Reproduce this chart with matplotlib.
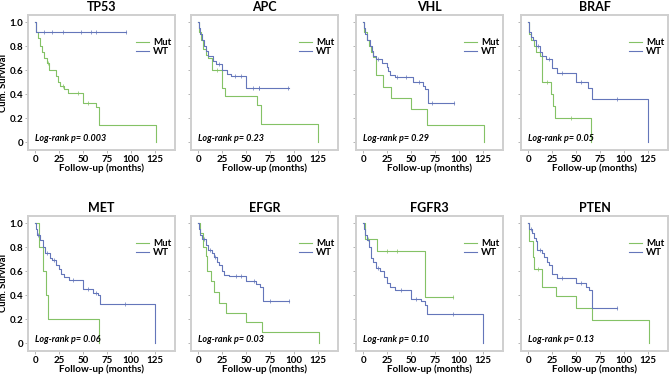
""" Kaplan-Meier curves, mutated vs wild type, for eight genes
"""
import numpy as np
import matplotlib
matplotlib.use('Agg')
import matplotlib.pyplot as plt

# gene names and log-rank p values
genes = ['TP53', 'APC', 'VHL', 'BRAF', 'MET', 'EFGR', 'FGFR3', 'PTEN']
p_values = ['0.003', '0.23', '0.29', '0.05', '0.06', '0.03', '0.10', '0.13']

# step curves: event times (months), survival after each step, censored times
tp53_mut_t = [0, 1, 3, 5, 7, 9, 12, 14, 22, 24, 26, 30, 34, 50, 64, 67, 126]
tp53_mut_s = [1.0, 0.92, 0.87, 0.8, 0.75, 0.7, 0.66, 0.6, 0.55, 0.5, 0.47, 0.44, 0.41, 0.33, 0.29, 0.145, 0]
tp53_mut_c = [13, 29, 45, 55]
tp53_wt_t = [0, 1, 95]
tp53_wt_s = [1.0, 0.92, 0.92]
tp53_wt_c = [9, 18, 29, 48, 58, 64, 95]

apc_mut_t = [0, 1, 3, 5, 8, 10, 14, 25, 28, 61, 66, 125]
apc_mut_s = [1.0, 0.92, 0.85, 0.78, 0.73, 0.7, 0.6, 0.455, 0.386, 0.31, 0.153, 0]
apc_mut_c = [20]
apc_wt_t = [0, 1, 2, 4, 6, 8, 10, 15, 19, 25, 30, 34, 50, 95]
apc_wt_s = [1.0, 0.95, 0.9, 0.85, 0.8, 0.76, 0.72, 0.68, 0.65, 0.6, 0.57, 0.55, 0.455, 0.455]
apc_wt_c = [22, 38, 45, 57, 63, 64, 94]

vhl_mut_t = [0, 1, 4, 6, 8, 10, 13, 21, 29, 50, 67, 126]
vhl_mut_s = [1.0, 0.92, 0.85, 0.8, 0.75, 0.71, 0.56, 0.46, 0.37, 0.275, 0.14, 0]
vhl_mut_c = []
vhl_wt_t = [0, 1, 2, 4, 7, 9, 10, 13, 20, 25, 26, 28, 33, 52, 62, 65, 68, 95]
vhl_wt_s = [1.0, 0.95, 0.9, 0.85, 0.8, 0.76, 0.72, 0.69, 0.66, 0.63, 0.59, 0.56, 0.54, 0.5, 0.47, 0.44, 0.33, 0.33]
vhl_wt_c = [15, 35, 45, 58, 72, 95]

braf_mut_t = [0, 1, 3, 6, 8, 12, 14, 24, 26, 28, 66]
braf_mut_s = [1.0, 0.9, 0.85, 0.8, 0.75, 0.72, 0.505, 0.4, 0.3, 0.2, 0]
braf_mut_c = [20, 45]
braf_wt_t = [0, 1, 3, 5, 8, 12, 14, 19, 25, 30, 50, 62, 67, 125]
braf_wt_s = [1.0, 0.92, 0.88, 0.85, 0.8, 0.75, 0.72, 0.69, 0.62, 0.58, 0.5, 0.455, 0.36, 0]
braf_wt_c = [10, 22, 35, 55, 93]

met_mut_t = [0, 4, 8, 11, 13, 67]
met_mut_s = [1.0, 0.8, 0.6, 0.4, 0.2, 0]
met_mut_c = []
met_wt_t = [0, 1, 2, 5, 8, 10, 15, 18, 22, 25, 27, 30, 35, 50, 60, 66, 68, 125]
met_wt_s = [1.0, 0.95, 0.9, 0.86, 0.8, 0.75, 0.71, 0.69, 0.65, 0.62, 0.58, 0.55, 0.525, 0.45, 0.42, 0.4, 0.323, 0]
met_wt_c = [3, 12, 20, 40, 55, 63, 94]

efgr_mut_t = [0, 2, 5, 8, 9, 13, 16, 22, 29, 50, 67, 126]
efgr_mut_s = [1.0, 0.92, 0.8, 0.73, 0.6, 0.52, 0.425, 0.337, 0.255, 0.173, 0.09, 0]
efgr_mut_c = []
efgr_wt_t = [0, 1, 2, 4, 8, 10, 14, 16, 20, 22, 25, 27, 32, 50, 60, 65, 68, 95]
efgr_wt_s = [1.0, 0.95, 0.9, 0.87, 0.82, 0.775, 0.75, 0.72, 0.68, 0.65, 0.6, 0.57, 0.556, 0.515, 0.49, 0.466, 0.35, 0.35]
efgr_wt_c = [6, 12, 18, 40, 45, 58, 75, 95]

fgfr3_mut_t = [0, 2, 14, 65, 94]
fgfr3_mut_s = [1.0, 0.87, 0.77, 0.385, 0.385]
fgfr3_mut_c = [5, 25, 35, 94]
fgfr3_wt_t = [0, 1, 2, 4, 6, 8, 10, 13, 18, 22, 25, 28, 33, 50, 60, 65, 67, 125]
fgfr3_wt_s = [1.0, 0.95, 0.9, 0.86, 0.8, 0.71, 0.68, 0.625, 0.6, 0.55, 0.5, 0.47, 0.44, 0.372, 0.35, 0.317, 0.24, 0]
fgfr3_wt_c = [15, 40, 55, 94]

pten_mut_t = [0, 1, 5, 6, 14, 29, 50, 67, 126]
pten_mut_s = [1.0, 0.85, 0.72, 0.615, 0.47, 0.39, 0.29, 0.19, 0]
pten_mut_c = [10]
pten_wt_t = [0, 1, 4, 6, 8, 9, 14, 16, 20, 22, 25, 30, 50, 60, 63, 67, 93]
pten_wt_s = [1.0, 0.95, 0.92, 0.88, 0.85, 0.78, 0.75, 0.72, 0.68, 0.655, 0.58, 0.54, 0.5, 0.47, 0.44, 0.29, 0.29]
pten_wt_c = [3, 12, 35, 55, 93]

mut_curves = [(tp53_mut_t, tp53_mut_s, tp53_mut_c), (apc_mut_t, apc_mut_s, apc_mut_c),
              (vhl_mut_t, vhl_mut_s, vhl_mut_c), (braf_mut_t, braf_mut_s, braf_mut_c),
              (met_mut_t, met_mut_s, met_mut_c), (efgr_mut_t, efgr_mut_s, efgr_mut_c),
              (fgfr3_mut_t, fgfr3_mut_s, fgfr3_mut_c), (pten_mut_t, pten_mut_s, pten_mut_c)]
wt_curves = [(tp53_wt_t, tp53_wt_s, tp53_wt_c), (apc_wt_t, apc_wt_s, apc_wt_c),
             (vhl_wt_t, vhl_wt_s, vhl_wt_c), (braf_wt_t, braf_wt_s, braf_wt_c),
             (met_wt_t, met_wt_s, met_wt_c), (efgr_wt_t, efgr_wt_s, efgr_wt_c),
             (fgfr3_wt_t, fgfr3_wt_s, fgfr3_wt_c), (pten_wt_t, pten_wt_s, pten_wt_c)]

MUT_COLOR = '#84c266'
WT_COLOR = '#6476ba'


def draw_km(ax, t, s, c, color, label):
    # step line plus small vertical censor ticks
    ax.step(t, s, where='post', color=color, lw=0.8, label=label)
    t = np.asarray(t)
    s = np.asarray(s)
    if len(c) > 0:
        idx = np.searchsorted(t, c, side='right') - 1
        ax.plot(c, s[idx], linestyle='none', marker='|', markersize=2.5,
                markeredgewidth=0.5, color=color)


def main():
    plt.rcParams['font.family'] = ['Lato', 'DejaVu Sans']
    fig = plt.figure(figsize=(6.69, 3.76), dpi=100)

    W, H = 669, 376
    lefts = [28, 191, 356, 521]
    width = 147
    tops = [15, 216]
    height = 135

    for i, gene in enumerate(genes):
        row, col = divmod(i, 4)
        x0 = lefts[col] / W
        y0 = 1 - (tops[row] + height) / H
        ax = fig.add_axes([x0, y0, width / W, height / H])

        mt, ms, mc = mut_curves[i]
        wt, ws, wc = wt_curves[i]
        draw_km(ax, mt, ms, mc, MUT_COLOR, 'Mut')
        draw_km(ax, wt, ws, wc, WT_COLOR, 'WT')

        ax.set_xlim(-7.5, 146)
        ax.set_ylim(-0.065, 1.06)
        ax.set_xticks([0, 25, 50, 75, 100, 125])
        ax.set_yticks([0, 0.2, 0.4, 0.6, 0.8, 1.0])
        if col == 0:
            ax.set_yticklabels(['0', '0.2', '0.4', '0.6', '0.8', '1.0'])
            ax.set_ylabel('Cum. Survival', fontsize=6.8, fontweight='bold')
            ax.yaxis.set_label_coords(-0.135, 0.5)
        else:
            ax.set_yticklabels([])
        ax.tick_params(axis='both', labelsize=7, colors='#aaaaaa', labelcolor='black',
                       length=2, width=0.6, pad=1.5)
        for lab in ax.get_xticklabels() + ax.get_yticklabels():
            lab.set_fontweight('bold')
        for sp in ax.spines.values():
            sp.set_color('#cfcfcf')
            sp.set_linewidth(1.4)

        ax.set_xlabel('Follow-up (months)', fontsize=7, fontweight='bold', labelpad=0)
        ax.set_title(gene, fontsize=9, fontweight='bold', pad=3)
        ax.text(0, 0.03, 'Log-rank p= ' + p_values[i], fontsize=6.5,
                fontweight='bold', fontstyle='italic', va='center', ha='left')
        ax.legend(loc='upper right', bbox_to_anchor=(1.02, 0.88), frameon=False,
                  handlelength=1.3, handletextpad=0.4, labelspacing=0.05,
                  borderpad=0.2, prop={'weight': 'bold', 'size': 7})

    fig.savefig('out.png', dpi=100)


if __name__ == '__main__':
    main()
